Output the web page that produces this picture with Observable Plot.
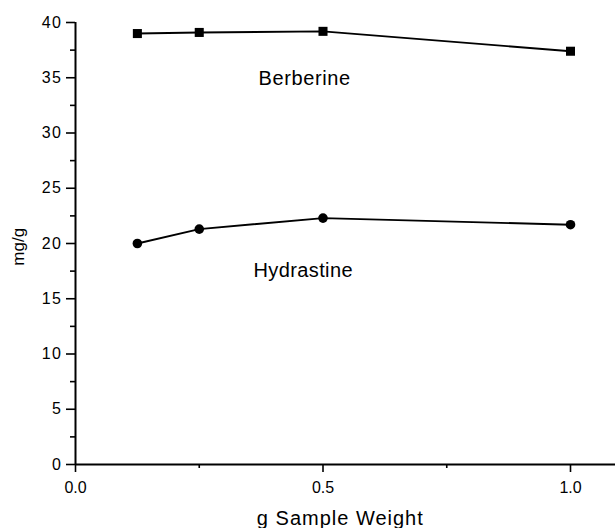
<!DOCTYPE html>
<html>
<head>
<meta charset="utf-8">
<script src="https://cdn.jsdelivr.net/npm/d3@7"></script>
<script src="https://cdn.jsdelivr.net/npm/@observablehq/plot@0.6"></script>
<style>
  html, body { margin: 0; padding: 0; background: #fff; }
  svg { font-family: "Liberation Sans", Arial, sans-serif; }
</style>
</head>
<body>
<div id="chart"></div>
<script>
// Data
const sampleWeight = [0.125, 0.25, 0.5, 1.0];
const berberine = [39.0, 39.1, 39.2, 37.4];
const hydrastine = [20.0, 21.3, 22.3, 21.7];

const xMajorTicks = [0, 0.5, 1.0];
const xMinorTicks = [0.25, 0.75];
const yMajorTicks = [0, 5, 10, 15, 20, 25, 30, 35, 40];
const yMinorTicks = [2.5, 7.5, 12.5, 17.5, 22.5, 27.5, 32.5, 37.5];

const seriesLabels = [
  {name: "Berberine", x: 0.463, y: 34.3},
  {name: "Hydrastine", x: 0.46, y: 17.0}
];
const xTitle = [{text: "g Sample Weight", x: 0.535, y: 0}];
const yTitle = [{text: "mg/g", x: -0.115, y: 19.7}];

const berData = sampleWeight.map((w, i) => ({w, v: berberine[i]}));
const hydData = sampleWeight.map((w, i) => ({w, v: hydrastine[i]}));

const chart = Plot.plot({
  width: 615,
  height: 528,
  marginLeft: 75,
  marginRight: 0,
  marginTop: 22,
  marginBottom: 64,
  style: {fontFamily: "'Liberation Sans', Arial, sans-serif", color: "#000", background: "#fff", overflow: "visible"},
  x: {domain: [0, 540 / 495]},
  y: {domain: [0, 40]},
  marks: [
    Plot.axisX({ticks: xMajorTicks, tickFormat: d3.format(".1f"), tickSize: 8, tickPadding: 9, fontSize: 16, strokeWidth: 1.6, label: null}),
    Plot.axisX({ticks: xMinorTicks, tickFormat: () => "", tickSize: 4, strokeWidth: 1.6, label: null}),
    Plot.axisY({ticks: yMajorTicks, tickSize: 9, tickPadding: 4, fontSize: 16, strokeWidth: 1.6, label: null}),
    Plot.axisY({ticks: yMinorTicks, tickFormat: () => "", tickSize: 5, strokeWidth: 1.6, label: null}),
    Plot.ruleY([0], {stroke: "#000", strokeWidth: 2}),
    Plot.ruleX([0], {stroke: "#000", strokeWidth: 2}),
    Plot.line(berData, {x: "w", y: "v", stroke: "#000", strokeWidth: 1.9}),
    Plot.dot(berData, {x: "w", y: "v", symbol: "square", r: 5.1, fill: "#000", stroke: null}),
    Plot.line(hydData, {x: "w", y: "v", stroke: "#000", strokeWidth: 1.9}),
    Plot.dot(hydData, {x: "w", y: "v", symbol: "circle", r: 4.8, fill: "#000", stroke: null}),
    Plot.text(seriesLabels, {x: "x", y: "y", text: "name", fontSize: 20, lineAnchor: "bottom", textAnchor: "middle", fill: "#000"}),
    Plot.text(xTitle, {x: "x", y: "y", text: "text", dy: 60, lineAnchor: "bottom", textAnchor: "middle", fontSize: 20, fill: "#000"}),
    Plot.text(yTitle, {x: "x", y: "y", text: "text", rotate: -90, lineAnchor: "middle", textAnchor: "middle", fontSize: 17, fill: "#000"})
  ]
});

// Slightly wider letterforms, as in the reference
const spacing = new Map([["g Sample Weight", "1px"], ["Berberine", "0.6px"], ["Hydrastine", "0.4px"]]);
d3.select(chart).selectAll("text").each(function () {
  const t = this.textContent;
  if (spacing.has(t)) this.setAttribute("letter-spacing", spacing.get(t));
  else if (/^\d+$/.test(t)) this.setAttribute("letter-spacing", "1.5px");
});
document.getElementById("chart").appendChild(chart);
</script>
</body>
</html>
